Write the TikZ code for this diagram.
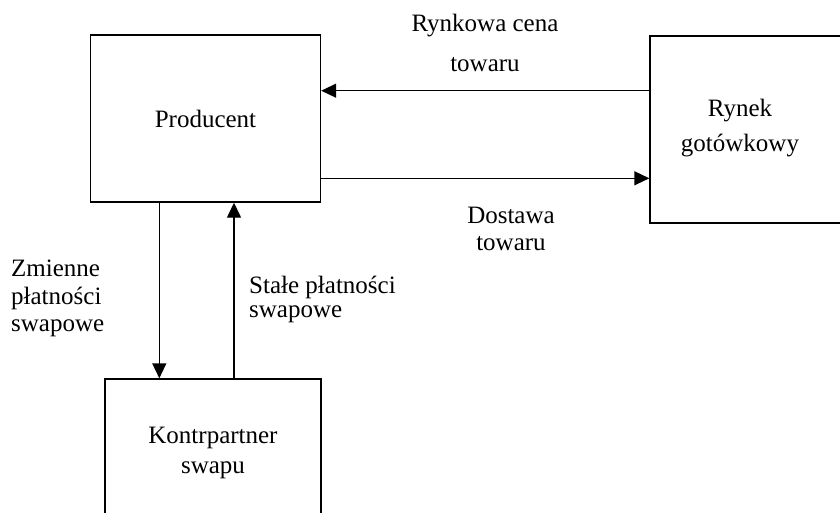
\documentclass[tikz,border=0pt]{standalone}
\usepackage{fontspec}
\setmainfont{Liberation Serif}
\usetikzlibrary{arrows.meta}
\tikzset{
  box/.style={draw, line width=1.4pt, rectangle, inner sep=0pt, font=\fontsize{25}{30}\selectfont},
  arr/.style={line width=1.4pt, -{Triangle[length=15pt,width=14pt]}},
  lbl/.style={inner sep=0pt, align=center},
}
\begin{document}
\begin{tikzpicture}[x=1pt,y=-1pt]
\useasboundingbox (0,0) rectangle (840,513);
\clip (0,0) rectangle (840,513);
% boxes
\node[box, minimum width=230pt, minimum height=167pt] (prod) at (205.5,118.5) {Producent};
\node[box, minimum width=200pt, minimum height=187pt] (rynek) at (750,129.5) {};
\node[box, minimum width=216pt, minimum height=149pt, align=center] (kontr) at (213,453.5)
  {\fontsize{25}{28.3}\selectfont\strut Kontrpartner\\\strut swapu};
% box text of the market
\node[lbl, font=\fontsize{25}{35}\selectfont] (rynektxt) at (740,127.2) {\strut Rynek\\\strut gotówkowy};
% levels of the connectors
\coordinate (ytop) at (0,90.7);
\coordinate (ybot) at (0,178.3);
\coordinate (xdown) at (159.3,0);
\coordinate (xup) at (234,0);
% connectors
\draw[arr] (rynek.west |- ytop) -- (prod.east |- ytop);
\draw[arr] (prod.east |- ybot) -- (rynek.west |- ybot);
\draw[arr] (xdown |- prod.south) -- (xdown |- kontr.north);
\draw[arr] (xup |- kontr.north) -- (xup |- prod.south);
% labels
\node[lbl, font=\fontsize{25}{40}\selectfont] (cena) at (485,43.7) {\strut Rynkowa cena\\\strut towaru};
\node[lbl, font=\fontsize{25}{27}\selectfont] (dost) at (511,231.1) {\strut Dostawa\\\strut towaru};
\node[lbl, align=left, anchor=west, font=\fontsize{25}{27.5}\selectfont] (zmienne) at (11,298.7)
  {\strut Zmienne\\\strut płatności\\\strut swapowe};
\node[lbl, align=left, anchor=west, font=\fontsize{25}{24}\selectfont] (stale) at (249,300.2)
  {\strut Stałe płatności\\\strut swapowe};
\end{tikzpicture}
\end{document}
